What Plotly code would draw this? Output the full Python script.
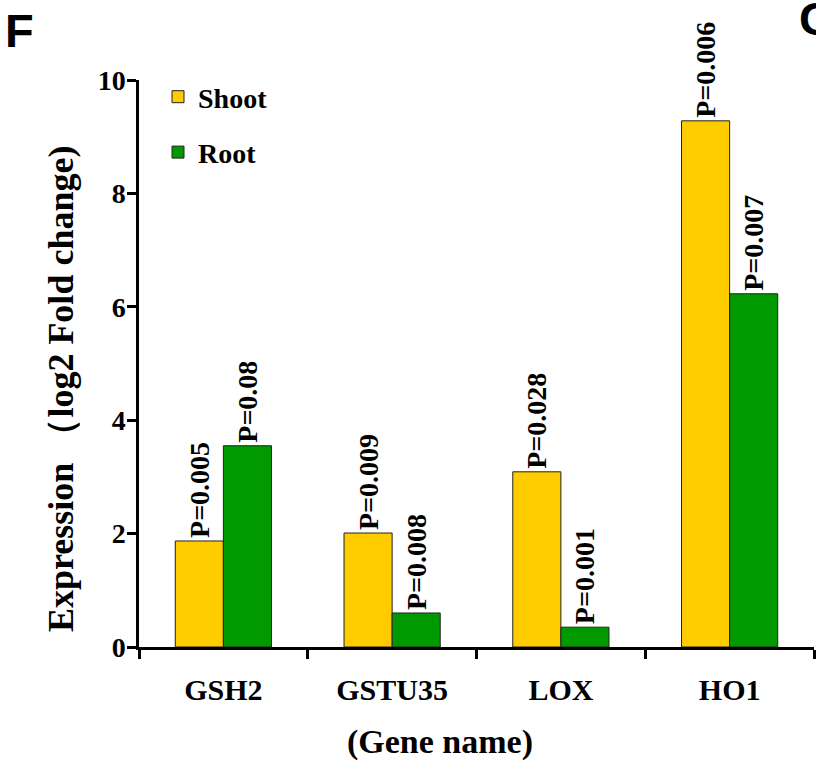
import plotly.graph_objects as go

genes = ["GSH2", "GSTU35", "LOX", "HO1"]
shoot = [1.87, 2.01, 3.09, 9.28]
root = [3.55, 0.60, 0.35, 6.23]
shoot_p = ["P=0.005", "P=0.009", "P=0.028", "P=0.006"]
root_p = ["P=0.08", "P=0.008", "P=0.001", "P=0.007"]

W, H = 816, 761
ML, MR, MT, MB = 139, 2, 80, 114
SERIF = "Liberation Serif, Times New Roman, serif"
SANS = "Liberation Sans, Arial, sans-serif"

def px_x(p):
    return (p - ML) / (W - ML - MR)

def px_y(p):
    return 1 - (p - MT) / (H - MT - MB)

def bfont(size, family=SERIF):
    return dict(family=family, size=size, color="black", weight="bold")

fig = go.Figure()
fig.add_trace(go.Bar(
    x=genes, y=shoot, name="Shoot", legendgroup="s",
    marker=dict(color="#FFCC00", line=dict(color="#222222", width=1)),
    text=shoot_p, textposition="outside", textangle=-90, constraintext="none",
    textfont=bfont(28), cliponaxis=False,
))
fig.add_trace(go.Bar(
    x=genes, y=root, name="Root", legendgroup="r",
    marker=dict(color="#009900", line=dict(color="#222222", width=1)),
    text=root_p, textposition="outside", textangle=-90, constraintext="none",
    textfont=bfont(28), cliponaxis=False,
))

fig.update_layout(
    width=W, height=H,
    margin=dict(l=ML, r=MR, t=MT, b=MB),
    paper_bgcolor="white", plot_bgcolor="white",
    barmode="group", bargap=0.43, bargroupgap=0,
    font=dict(family=SERIF, color="black"),
    showlegend=True,
    legend=dict(
        x=px_x(158), y=px_y(72), xanchor="left", yanchor="top",
        font=bfont(28),
        traceorder="grouped", tracegroupgap=16,
        bgcolor="rgba(0,0,0,0)",
    ),
    xaxis=dict(
        type="category", range=[-0.5, 3.5],
        showline=True, linecolor="black", linewidth=2.5,
        ticks="outside", tickson="boundaries", ticklen=9, tickwidth=2.5, tickcolor="black",
        tickfont=bfont(30),
        ticklabelstandoff=14,
        showgrid=False, zeroline=False,
    ),
    yaxis=dict(
        range=[0, 10], tickvals=[0, 2, 4, 6, 8, 10],
        showline=True, linecolor="black", linewidth=2.5,
        ticks="outside", ticklen=9, tickwidth=2.5, tickcolor="black",
        tickfont=bfont(28),
        ticklabelstandoff=-4,
        showgrid=False, zeroline=False,
    ),
)

fig.add_annotation(text="Expression （log2 Fold change)", xref="paper", yref="paper",
                   x=px_x(61), y=px_y(389), xanchor="center", yanchor="middle",
                   textangle=-90, showarrow=False, font=bfont(36))

fig.add_annotation(text="(Gene name)", xref="paper", yref="paper",
                   x=px_x(440), y=px_y(742), xanchor="center", yanchor="middle",
                   showarrow=False, font=bfont(34))

fig.add_annotation(text="F", xref="paper", yref="paper",
                   x=px_x(3), y=px_y(2), xanchor="left", yanchor="top",
                   showarrow=False, font=bfont(47, SANS))
fig.add_annotation(text="G", xref="paper", yref="paper",
                   x=px_x(797), y=px_y(-10), xanchor="left", yanchor="top",
                   showarrow=False, font=bfont(47, SANS))

fig.write_html("out.html")
